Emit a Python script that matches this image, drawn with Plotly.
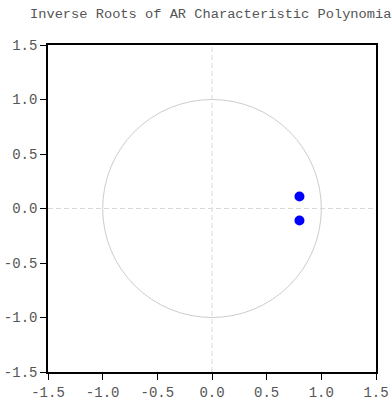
import plotly.graph_objects as go

root_re = [0.80, 0.80]
root_im = [0.11, -0.11]
tick_vals = [-1.5, -1.0, -0.5, 0.0, 0.5, 1.0, 1.5]
tick_text = ["-1.5", "-1.0", "-0.5", "0.0", "0.5", "1.0", "1.5"]
title_text = "Inverse Roots of AR Characteristic Polynomial"

fig = go.Figure()
fig.add_trace(go.Scatter(x=root_re, y=root_im, mode="markers",
                         marker=dict(color="#0000ff", size=10), showlegend=False))

axis_common = dict(range=[-1.5, 1.5], tickvals=tick_vals, ticktext=tick_text,
                   showgrid=False, zeroline=False, ticks="outside", ticklen=6,
                   tickcolor="black", tickwidth=1, showline=True, linecolor="black",
                   linewidth=1.5, mirror=True, automargin=False,
                   tickfont=dict(family="Liberation Mono", size=14, color="#555555"))
fig.update_xaxes(**axis_common)
fig.update_yaxes(**axis_common)

fig.add_shape(type="circle", xref="x", yref="y", x0=-1, y0=-1, x1=1, y1=1,
              line=dict(color="#cccccc", width=1), layer="below")
fig.add_shape(type="line", xref="x", yref="y", x0=-1.5, x1=1.5, y0=0, y1=0,
              line=dict(color="#d8d8d8", width=1, dash="5px,3px"), layer="below")
fig.add_shape(type="line", xref="x", yref="y", x0=0, x1=0, y0=-1.5, y1=1.5,
              line=dict(color="#d8d8d8", width=1, dash="5px,3px"), layer="below")

fig.update_layout(
    width=392, height=404,
    margin=dict(l=48, r=16, t=45, b=32),
    paper_bgcolor="white", plot_bgcolor="white",
    title=dict(text=title_text, x=30/392, xanchor="left", y=1-13/404, yanchor="middle",
               font=dict(family="Liberation Mono", size=13.7, color="#555555")),
)
fig.write_html("out.html")
